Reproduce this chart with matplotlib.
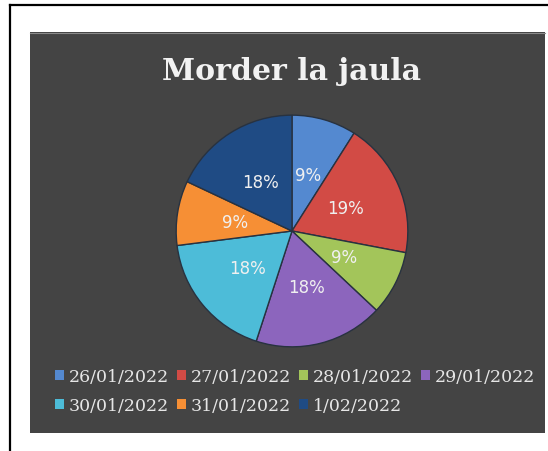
import matplotlib.pyplot as plt
from matplotlib.patches import Rectangle
from matplotlib.lines import Line2D

# datos
fechas = ["26/01/2022", "27/01/2022", "28/01/2022", "29/01/2022",
          "30/01/2022", "31/01/2022", "1/02/2022"]
valores = [9, 19, 9, 18, 18, 9, 18]
colores = ["#5489d0", "#d24b45", "#a3c55a", "#8c65bd",
           "#4dbcd8", "#f68f35", "#1f4b84"]
titulo = "Morder la jaula"

W, H = 548, 452
fig = plt.figure(figsize=(W / 100, H / 100), dpi=100)
fig.patch.set_facecolor("white")

# marco negro y fondo oscuro
fig.add_artist(Line2D([9.5 / W, 9.5 / W], [0, 1 - 5.5 / H], color="black", lw=1.6,
                      transform=fig.transFigure, zorder=-2))
fig.add_artist(Line2D([9.5 / W, 1], [1 - 5.5 / H, 1 - 5.5 / H], color="black", lw=1.6,
                      transform=fig.transFigure, zorder=-2))
fig.add_artist(Rectangle((30 / W, 1 - 434 / H), 515 / W, 401 / H,
                         transform=fig.transFigure, facecolor="#444444",
                         edgecolor="none", zorder=-2))
fig.add_artist(Line2D([30 / W, 545 / W], [1 - 33.5 / H, 1 - 33.5 / H], color="#8a8a8a",
                      lw=0.8, transform=fig.transFigure, zorder=-1))

fig.text(292 / W, 1 - 80 / H, titulo, ha="center", va="baseline",
         fontsize=21.5, fontweight="bold", family="DejaVu Serif", color="#f2f2f2")

# tarta
cx, cy, r = 292, 232, 117
ax = fig.add_axes([(cx - r) / W, 1 - (cy + r) / H, 2 * r / W, 2 * r / H])
ax.set_zorder(5)
ax.patch.set_alpha(0)
wedges, texts, autotexts = ax.pie(
    valores, colors=colores, startangle=90, counterclock=False,
    autopct="%.0f%%", pctdistance=0.5,
    wedgeprops=dict(edgecolor="#283240", linewidth=1.0),
    textprops=dict(color="#f0f0f0", fontsize=12))
ax.set_xlim(-1.01, 1.01)
ax.set_ylim(-1.01, 1.01)

# leyenda en filas (4 + 3)
orden = [0, 4, 1, 5, 2, 6, 3]
handles = [Rectangle((0, 0), 1, 1, facecolor=colores[i]) for i in orden]
etiquetas = [fechas[i] for i in orden]
leg = fig.legend(handles, etiquetas, ncol=4, loc="upper left",
                 bbox_to_anchor=(48 / W, 1 - 362 / H), frameon=False,
                 prop=dict(family="DejaVu Serif", size=12.5),
                 handlelength=0.5, handleheight=0.5, handletextpad=0.3,
                 columnspacing=0.45, labelspacing=0.7, borderaxespad=0)
for t in leg.get_texts():
    t.set_color("#e6e6e6")

fig.savefig("out.png", dpi=100)
